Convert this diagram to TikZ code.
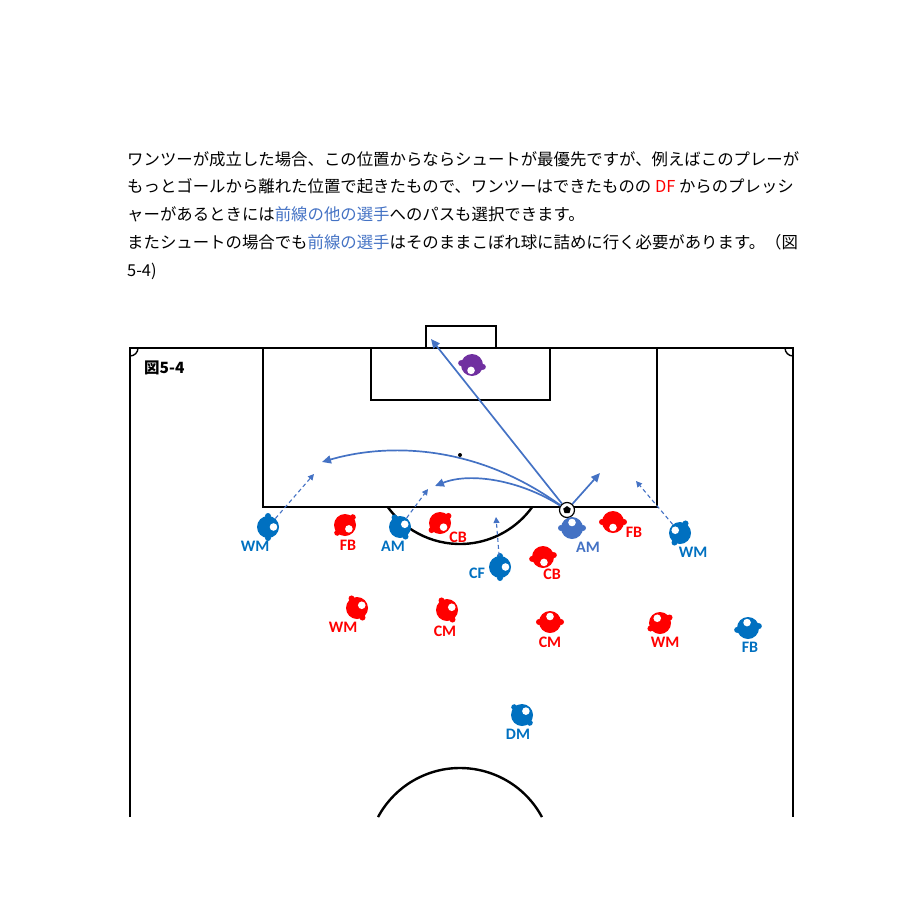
\documentclass[tikz,border=0pt]{standalone}
\usepackage{fontspec}
\setmainfont{Carlito}
\newfontfamily\jpfont{Noto Sans CJK JP}
\usepackage{xcolor}
\usetikzlibrary{calc, positioning, arrows.meta, shapes.geometric}
\definecolor{teamblue}{RGB}{0,112,192}
\definecolor{passblue}{RGB}{68,114,196}
\definecolor{teamred}{RGB}{255,0,0}
\definecolor{keeper}{RGB}{112,48,160}

% arms and eye of a player, #2 = the way he looks
\newcommand{\facing}[3]{%
  \fill[#3] ($(#1)+({#2+90}:11)$) circle (3);
  \fill[#3] ($(#1)+({#2-90}:11)$) circle (3);
  \fill[white] ($(#1)+(#2:5.5)$) circle (3.8);}

\begin{document}
\begin{tikzpicture}[x=1pt,y=1pt,
  field/.style={draw=black,line width=2.8pt},
  player/.style={circle,fill=#1,minimum size=22pt,inner sep=0pt},
  role/.style={text=#1,font=\bfseries\fontsize{16}{16}\selectfont,inner sep=0pt},
  pass/.style={draw=passblue,line width=1.7pt,-{Triangle[length=9pt,width=8pt]}},
  run/.style={draw=passblue,line width=1.1pt,dash pattern=on 4pt off 3pt,-{Triangle[length=6pt,width=6pt]}},
  textline/.style={anchor=base west,inner sep=0pt,font=\jpfont\fontsize{16.4}{16.4}\selectfont}]
\useasboundingbox (0,0) rectangle (920,-920);

%text
  \node[textline] (l1) at (127,-166) {ワンツーが成立した場合、この位置からならシュートが最優先ですが、例えばこのプレーが};
  \node[textline] (l2) at (127,-193) {もっとゴールから離れた位置で起きたもので、ワンツーはできたものの \textcolor{teamred}{DF} からのプレッシ};
  \node[textline] (l3) at (127,-220) {ャーがあるときには\textcolor{passblue}{前線の他の選手}へのパスも選択できます。};
  \node[textline] (l4) at (127,-248) {またシュートの場合でも\textcolor{passblue}{前線の選手}はそのままこぼれ球に詰めに行く必要があります。（図};
  \node[textline] (l5) at (127,-276) {5-4)};

%pitch
  \draw[field] (130,-817) -- (130,-348) -- (793,-348) -- (793,-817);
  \draw[field] (263,-348) rectangle (657,-507);
  \draw[field] (371,-348) rectangle (550,-400);
  \draw[field] (426,-348) -- (426,-326) -- (496,-326) -- (496,-348);
  \draw[black,line width=1.4pt] (138,-348) arc[start angle=0,end angle=-90,radius=8];
  \draw[black,line width=1.4pt] (785,-348) arc[start angle=180,end angle=270,radius=8];
  \fill (460,-455) circle (2);
  \draw[black,line width=2.4pt] (460,-455) ++(-144.3:89) arc[start angle=-144.3,end angle=-35.7,radius=89];
  \draw[black,line width=2.4pt] (460,-861) ++(28.2:93) arc[start angle=28.2,end angle=151.8,radius=93];
  \node[anchor=west,font=\jpfont\bfseries\fontsize{15.5}{15.5}\selectfont,inner sep=0pt] (fig) at (144,-368) {図5-4};

%ball
  \node[circle,draw=black,fill=white,line width=1.2pt,minimum size=15pt,inner sep=0pt] (ball) at (567,-510) {};
  \node[regular polygon,regular polygon sides=5,fill=black,minimum size=8pt,inner sep=0pt] (core) at (ball) {};

%blue side
  \node[player=teamblue] (wmL) at (268,-527) {};
  \node[player=teamblue] (amL) at (400,-527) {};
  \node[player=teamblue] (cf) at (500,-567) {};
  \node[player=passblue] (amR) at (572,-528) {};
  \node[player=teamblue] (wmR) at (680,-533) {};
  \node[player=teamblue] (fbB) at (748,-628) {};
  \node[player=teamblue] (dm) at (522,-715) {};
  \facing{wmL}{0}{teamblue}
  \facing{amL}{30}{teamblue}
  \facing{cf}{0}{teamblue}
  \facing{amR}{90}{passblue}
  \facing{wmR}{150}{teamblue}
  \facing{fbB}{100}{teamblue}
  \facing{dm}{45}{teamblue}
  \node[role=teamblue] (wmLt) at (255,-546) {WM};
  \node[role=teamblue] (amLt) at (393,-546) {AM};
  \node[role=teamblue] (cft) at (477,-573) {CF};
  \node[role=passblue] (amRt) at (588,-547) {AM};
  \node[role=teamblue] (wmRt) at (693,-552) {WM};
  \node[role=teamblue] (fbBt) at (750,-647) {FB};
  \node[role=teamblue] (dmt) at (518,-734) {DM};

%red side
  \node[player=teamred] (fbL) at (345,-525) {};
  \node[player=teamred] (cbL) at (440,-523) {};
  \node[player=teamred] (fbR) at (613,-522) {};
  \node[player=teamred] (cbR) at (543,-557) {};
  \node[player=teamred] (wmA) at (357,-608) {};
  \node[player=teamred] (cmA) at (447,-610) {};
  \node[player=teamred] (cmB) at (550,-622) {};
  \node[player=teamred] (wmB) at (660,-623) {};
  \facing{fbL}{-45}{teamred}
  \facing{cbL}{-50}{teamred}
  \facing{fbR}{-90}{teamred}
  \facing{cbR}{-80}{teamred}
  \facing{wmA}{30}{teamred}
  \facing{cmA}{30}{teamred}
  \facing{cmB}{90}{teamred}
  \facing{wmB}{120}{teamred}
  \node[role=teamred] (fbLt) at (348,-545) {FB};
  \node[role=teamred] (cbLt) at (458,-537) {CB};
  \node[role=teamred] (fbRt) at (634,-532) {FB};
  \node[role=teamred] (cbRt) at (552,-574) {CB};
  \node[role=teamred] (wmAt) at (343,-627) {WM};
  \node[role=teamred] (cmAt) at (445,-631) {CM};
  \node[role=teamred] (cmBt) at (550,-642) {CM};
  \node[role=teamred] (wmBt) at (665,-642) {WM};

%keeper
  \node[player=keeper] (gk) at (472,-365) {};
  \facing{gk}{-100}{keeper}

%passes and runs
  \coordinate (goal) at (431,-339);
  \coordinate (far) at (322,-462);
  \coordinate (near) at (435,-486);
  \coordinate (side) at (600,-473);
  \draw[pass] (ball) -- (goal);
  \draw[pass] (ball) .. controls (470,-440) and (380,-445) .. (far);
  \draw[pass] (ball) .. controls (520,-480) and (470,-472) .. (near);
  \draw[pass] (ball) -- (side);
  \coordinate (wmLgo) at (314,-474);
  \coordinate (amLgo) at (428,-489);
  \coordinate (cfgo) at (496,-517);
  \coordinate (wmRgo) at (636,-481);
  \draw[run] (wmL) -- (wmLgo);
  \draw[run] (amL) -- (amLgo);
  \draw[run] (cf) -- (cfgo);
  \draw[run] (wmR) -- (wmRgo);
\end{tikzpicture}
\end{document}
